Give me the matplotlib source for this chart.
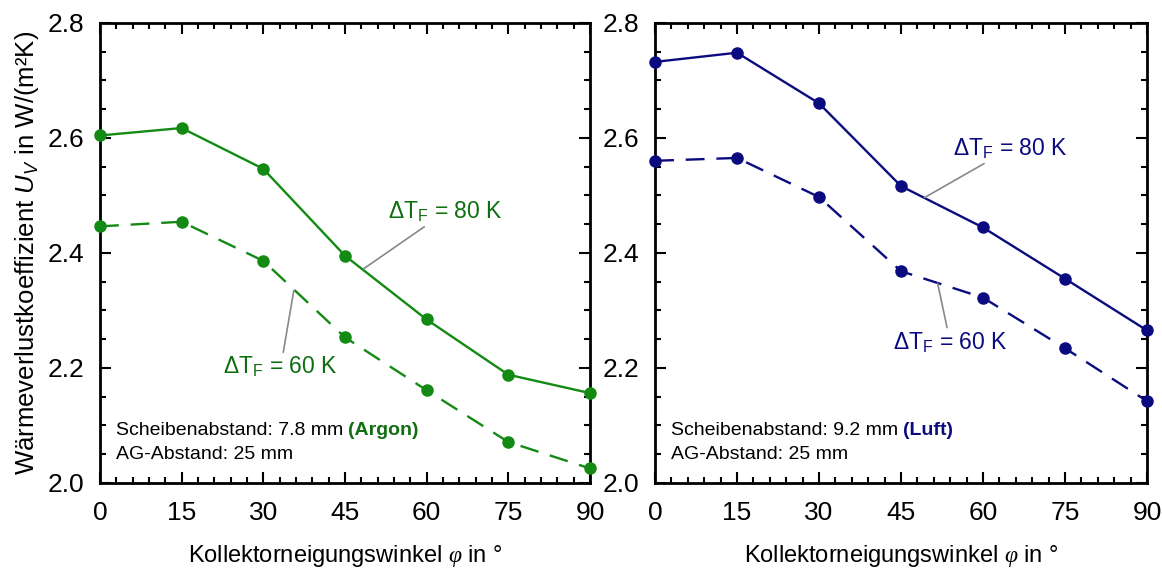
import matplotlib
matplotlib.use('Agg')
from matplotlib import pyplot as plt
from matplotlib.ticker import MultipleLocator

plt.rcParams['font.family'] = ['Liberation Sans', 'DejaVu Sans']
plt.rcParams['mathtext.fontset'] = 'custom'
plt.rcParams['mathtext.rm'] = 'Liberation Sans'
plt.rcParams['mathtext.sf'] = 'Liberation Sans:italic'
plt.rcParams['mathtext.it'] = 'Liberation Serif:italic'

# data
angles = [0, 15, 30, 45, 60, 75, 90]
argon_80 = [2.604, 2.617, 2.546, 2.395, 2.284, 2.188, 2.156]
argon_60 = [2.446, 2.454, 2.386, 2.253, 2.161, 2.071, 2.025]
luft_80 = [2.732, 2.748, 2.660, 2.516, 2.444, 2.355, 2.265]
luft_60 = [2.560, 2.565, 2.497, 2.368, 2.322, 2.234, 2.142]

green = '#138a13'
green_txt = '#0f6e0f'
navy = '#0b0b80'

fig = plt.figure(figsize=(11.62, 5.70), dpi=100)
ax1 = fig.add_axes([0.086, 0.153, 0.4217, 0.807])
ax2 = fig.add_axes([0.5637, 0.153, 0.4234, 0.807])


def style_axes(ax):
    ax.set_xlim(0, 90)
    ax.set_ylim(2.0, 2.8)
    ax.xaxis.set_major_locator(MultipleLocator(15))
    ax.xaxis.set_minor_locator(MultipleLocator(3))
    ax.yaxis.set_major_locator(MultipleLocator(0.2))
    ax.yaxis.set_minor_locator(MultipleLocator(0.05))
    ax.yaxis.set_major_formatter(lambda v, p: '%.1f' % v)
    ax.tick_params(which='both', direction='in', top=True, right=True,
                   width=1.5, labelsize=19)
    ax.tick_params(which='major', length=8, pad=11)
    ax.tick_params(axis='x', which='major', pad=13)
    ax.tick_params(which='minor', length=4)
    for s in ax.spines.values():
        s.set_linewidth(2)
    ax.set_xlabel('Kollektorneigungswinkel $\\varphi$ in °', fontsize=17, labelpad=13)


def add_series(ax, y80, y60, col):
    ax.plot(angles, y80, '-', color=col, lw=1.7, marker='o', ms=8, clip_on=False, zorder=3)
    ax.plot(angles, y60, '--', color=col, lw=1.7, dashes=(8, 5), marker='o', ms=8,
            clip_on=False, zorder=3)


def note(ax, gas, gap, col):
    t = ax.text(0.032, 0.095, 'Scheibenabstand: %s mm ' % gap, transform=ax.transAxes,
                fontsize=14, va='bottom', ha='left')
    ax.annotate('(%s)' % gas, xy=(1, 0), xycoords=t, va='bottom', ha='left',
                fontsize=14, fontweight='bold', color=col)
    ax.text(0.032, 0.042, 'AG-Abstand: 25 mm', transform=ax.transAxes,
            fontsize=14, va='bottom', ha='left')


def label(ax, text, xy, xytext, col, ha, va):
    ax.annotate(text, xy=xy, xytext=xytext, color=col, fontsize=16.5, ha=ha, va=va,
                arrowprops=dict(arrowstyle='-', color='#888888', lw=1.2,
                                shrinkA=0, shrinkB=0))


style_axes(ax1)
add_series(ax1, argon_80, argon_60, green)
note(ax1, 'Argon', '7.8', green_txt)
label(ax1, '$\\Delta$T$_\\mathrm{F}$ = 80 K', (48.4, 2.372), (53.0, 2.45), green_txt, 'left', 'bottom')
label(ax1, '$\\Delta$T$_\\mathrm{F}$ = 60 K', (35.6, 2.334), (33.2, 2.222), green_txt, 'center', 'top')
ax1.set_ylabel('Wärmeverlustkoeffizient $\\mathsf{U_V}$ in W/(m²K)', fontsize=18.5, labelpad=5)

style_axes(ax2)
add_series(ax2, luft_80, luft_60, navy)
note(ax2, 'Luft', '9.2', navy)
label(ax2, '$\\Delta$T$_\\mathrm{F}$ = 80 K', (49.3, 2.496), (54.5, 2.56), navy, 'left', 'bottom')
label(ax2, '$\\Delta$T$_\\mathrm{F}$ = 60 K', (51.7, 2.347), (54.0, 2.265), navy, 'center', 'top')

fig.savefig('out.png', dpi=100)
